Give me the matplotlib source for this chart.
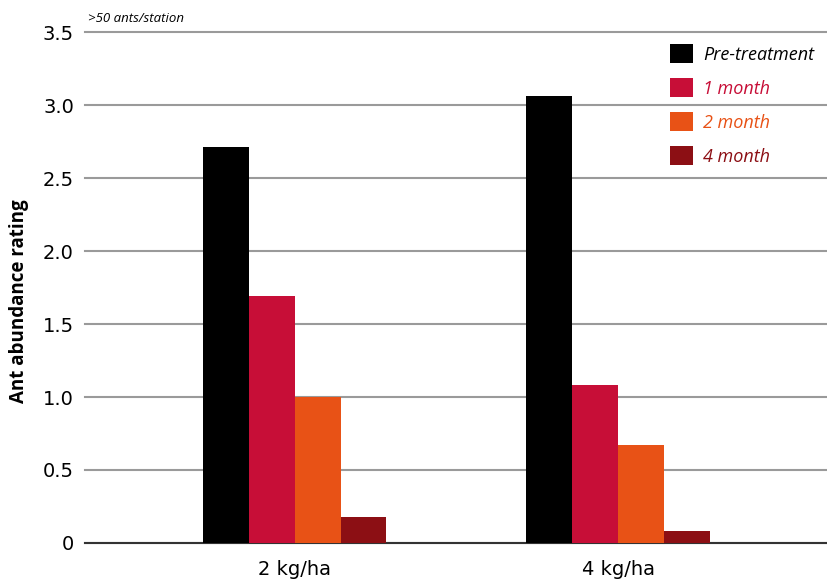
import matplotlib
matplotlib.use("Agg")
import matplotlib.pyplot as plt
import numpy as np

groups = ["2 kg/ha", "4 kg/ha"]
series = ["Pre-treatment", "1 month", "2 month", "4 month"]
pre_treatment = [2.71, 3.06]
month_1 = [1.69, 1.08]
month_2 = [1.00, 0.67]
month_4 = [0.18, 0.08]
colors = ["#000000", "#c70e37", "#e85216", "#8c0f14"]
yticks = [0, 0.5, 1.0, 1.5, 2.0, 2.5, 3.0, 3.5]
ytick_labels = ["0", "0.5", "1.0", "1.5", "2.0", "2.5", "3.0", "3.5"]

values = [pre_treatment, month_1, month_2, month_4]

fig = plt.figure(figsize=(8.28, 5.8), dpi=100)
ax = fig.add_axes([0.1027, 0.0638, 0.8973, 0.881])

x = np.arange(len(groups))
w = 0.142
for i, (name, vals) in enumerate(zip(series, values)):
    ax.bar(x + (i - 1.5) * w, vals, w, color=colors[i], label=name, zorder=3)

ax.set_xlim(-0.648, 1.649)
ax.set_ylim(0, 3.5)
ax.set_yticks(yticks)
ax.set_yticklabels(ytick_labels)
ax.set_xticks(x)
ax.set_xticklabels(groups)
ax.yaxis.grid(True, color="#9a9a9a", linewidth=1.5, zorder=0)
for gl in ax.get_ygridlines():
    gl.set_clip_on(False)
ax.set_axisbelow(True)
for s in ["left", "right", "top"]:
    ax.spines[s].set_visible(False)
ax.spines["bottom"].set_color("#333333")
ax.spines["bottom"].set_linewidth(1.5)
ax.tick_params(axis="both", length=0, labelsize=14)
ax.tick_params(axis="y", pad=8)
ax.tick_params(axis="x", pad=12)

ax.set_ylabel("Ant abundance rating", fontsize=13.5, fontweight="bold",
              family=["Open Sans", "DejaVu Sans"])
ax.yaxis.set_label_coords(-0.076, 0.474)

fig.text(88 / 828, 1 - 18 / 580, ">50 ants/station", fontsize=9.5, style="italic",
         family=["Open Sans", "DejaVu Sans"], va="center")

leg = ax.legend(loc="upper left", bbox_to_anchor=(661 / 828, 1 - 35 / 580),
                bbox_transform=fig.transFigure, frameon=False,
                prop={"family": "Open Sans", "style": "italic", "size": 13},
                handlelength=1.3, handleheight=1.25, labelspacing=0.8,
                handletextpad=0.55, borderpad=0)
for t, c in zip(leg.get_texts(), colors):
    t.set_color(c)

fig.savefig("out.png", dpi=100)
plt.close(fig)
